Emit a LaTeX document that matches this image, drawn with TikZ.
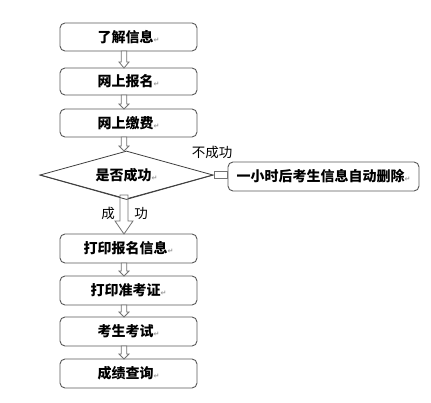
\documentclass[tikz,border=0pt]{standalone}
\usepackage{fontspec}
\setmainfont{Noto Sans CJK SC}
\newfontfamily\symfont{DejaVu Sans}
\usetikzlibrary{shapes.geometric,calc}
\newcommand\pmark{{\symfont\fontsize{7}{7}\selectfont\textcolor{black!40}{↵}}}
% hollow block arrow pointing down, from #1 to #2
\newcommand\hollowdown[5]{%
  \draw[harrow] let \p1=(#1), \p2=(#2) in
    (\x2-#3,\y1) -- (\x2-#3,\y2+#5) -- (\x2-#4,\y2+#5) -- (\x2,\y2)
    -- (\x2+#4,\y2+#5) -- (\x2+#3,\y2+#5) -- (\x2+#3,\y1) -- cycle;}
\begin{document}
\begin{tikzpicture}[x=1pt,y=-1pt,
  stepbox/.style={draw=black!65, line width=0.9pt, rounded corners=5pt, fill=white,
    minimum width=137pt, minimum height=28pt, inner sep=0pt,
    font=\bfseries\fontsize{14}{15}\selectfont},
  decision/.style={diamond, draw=black!75, line width=0.8pt, fill=white,
    minimum width=173pt, minimum height=48pt, inner sep=0pt, aspect=3.6,
    font=\bfseries\fontsize{14}{15}\selectfont},
  harrow/.style={draw=black!55, line width=0.8pt, fill=white},
  lbl/.style={inner sep=0pt, font=\fontsize{13.5}{14}\selectfont}]
\useasboundingbox (0,0) rectangle (431,403);
\fill[white] (0,0) rectangle (431,403);

\node[stepbox] (b1) at (128.5,37) {了解信息\pmark};
\node[stepbox, minimum height=27pt] (b2) at (128.5,81.5) {网上报名\pmark};
\node[stepbox] (b3) at (128.5,123) {网上缴费\pmark};
\node[decision] (d) at (126.5,175) {是否成功\pmark};
\node[stepbox, minimum width=191pt, minimum height=29pt] (r) at (323.5,176.5) {一小时后考生信息自动删除\pmark};
\node[stepbox, minimum height=29pt] (b4) at (128.5,248.5) {打印报名信息\pmark};
\node[stepbox, minimum height=29pt] (b5) at (128.5,290.5) {打印准考证\pmark};
\node[stepbox, minimum height=29pt] (b6) at (128.5,331.5) {考生考试\pmark};
\node[stepbox, minimum height=29pt] (b7) at (128.5,373.5) {成绩查询\pmark};

\coordinate (a1s) at (124,51);  \coordinate (a1e) at (124,68);
\coordinate (a2s) at (124,95);  \coordinate (a2e) at (124,109);
\coordinate (a3s) at (124,137); \coordinate (a3e) at (124,151);
\coordinate (a4s) at (124,195); \coordinate (a4e) at (124,234);
\coordinate (a5s) at (124,263); \coordinate (a5e) at (124,276);
\coordinate (a6s) at (124,305); \coordinate (a6e) at (124,317);
\coordinate (a7s) at (124,346); \coordinate (a7e) at (124,359);

\hollowdown{a1s}{a1e}{2.8pt}{5pt}{6pt}
\hollowdown{a2s}{a2e}{2.8pt}{5pt}{5pt}
\hollowdown{a3s}{a3e}{2.8pt}{5pt}{5pt}
\hollowdown{a5s}{a5e}{2.8pt}{5pt}{5pt}
\hollowdown{a6s}{a6e}{2.8pt}{5pt}{5pt}
\hollowdown{a7s}{a7e}{2.8pt}{5pt}{5pt}
\hollowdown{a4s}{a4e}{4pt}{9pt}{13pt}
% redraw bottom part of diamond outline over the big arrow start
\draw[black!75, line width=0.8pt] (d.west) -- (d.south) -- (d.east);

% side connector
\draw[harrow] let \p1=(d.east), \p2=(r.west) in
  (\x1+1pt,\y1-3.5pt) rectangle (\x2,\y1+3.5pt);

\node[lbl] (nf) at (212,152) {不成功};
\node[lbl] (sl) at (108,213) {成};
\node[lbl] (sr) at (141,213) {功};
\end{tikzpicture}
\end{document}
